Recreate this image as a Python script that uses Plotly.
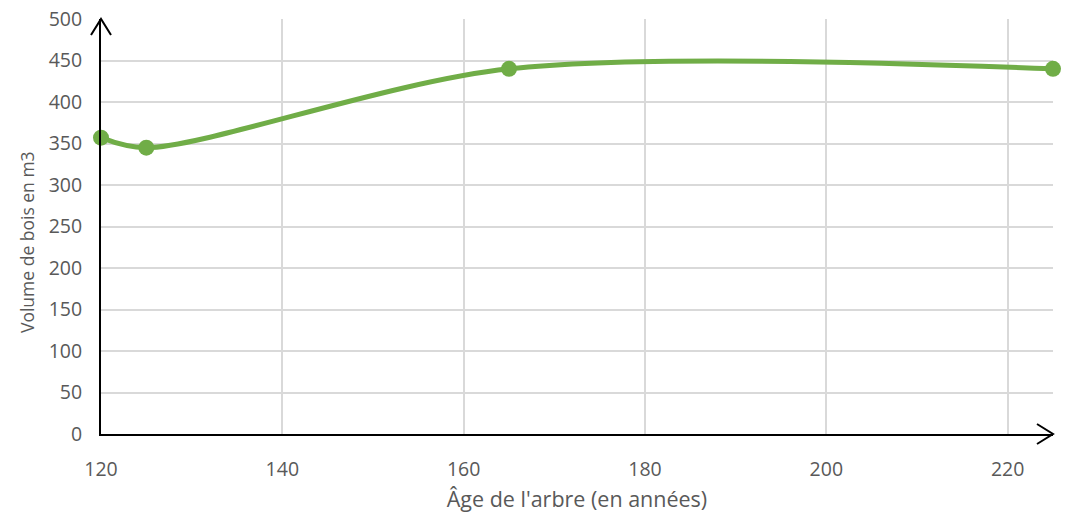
import plotly.graph_objects as go

# Tree age (years) and wood volume (m3)
ages = [120, 125, 165, 225]
volumes = [357, 345, 440, 440]

x_ticks = [120, 140, 160, 180, 200, 220]
y_ticks = [0, 50, 100, 150, 200, 250, 300, 350, 400, 450, 500]

green = "#70AD47"
grey_text = "#595959"
grid = "#D9D9D9"
font_family = "Open Sans, Noto Sans, DejaVu Sans, sans-serif"

fig = go.Figure()
fig.add_trace(go.Scatter(
    x=ages, y=volumes,
    mode="lines+markers",
    line=dict(color=green, width=5, shape="spline", smoothing=0.9),
    marker=dict(color=green, size=16),
    hoverinfo="x+y",
    cliponaxis=False,
))

fig.update_layout(
    width=1066, height=513,
    margin=dict(l=101, r=13, t=19, b=79),
    plot_bgcolor="white", paper_bgcolor="white",
    showlegend=False,
    font=dict(family=font_family, color=grey_text, size=15),
    xaxis=dict(
        range=[120, 225], tickmode="array", tickvals=x_ticks,
        showgrid=True, gridcolor=grid, gridwidth=2,
        showline=True, linecolor="black", linewidth=2,
        zeroline=False, ticks="", ticklabelstandoff=17, automargin=False,
        tickfont=dict(size=19.5, color=grey_text),
        title=dict(text="Âge de l'arbre (en années)", font=dict(size=21.5, color=grey_text), standoff=12),
    ),
    yaxis=dict(
        range=[0, 500], tickmode="array", tickvals=y_ticks,
        showgrid=True, gridcolor=grid, gridwidth=2,
        showline=True, linecolor="black", linewidth=2,
        zeroline=False, ticks="", ticklabelstandoff=13, automargin=False,
        tickfont=dict(size=19.5, color=grey_text),
    ),
)

# Vertical axis title, placed as a rotated annotation
fig.add_annotation(
    text="Volume de bois en m3", textangle=-90,
    xref="paper", yref="paper", x=-0.0777, y=0.4627,
    xanchor="center", yanchor="middle", showarrow=False,
    font=dict(size=17.5, color=grey_text),
)

# Open chevron arrowheads at the ends of both axes (paper refs so they are not clipped)
fig.add_shape(
    type="path", xref="paper", yref="paper",
    xsizemode="pixel", ysizemode="pixel", xanchor=0, yanchor=1,
    path="M -10,-16 L 0,0 L 10,-16",
    line=dict(color="black", width=2),
)
fig.add_shape(
    type="path", xref="paper", yref="paper",
    xsizemode="pixel", ysizemode="pixel", xanchor=1, yanchor=0,
    path="M -16,10 L 0,0 L -16,-10",
    line=dict(color="black", width=2),
)

fig.write_html("out.html")
